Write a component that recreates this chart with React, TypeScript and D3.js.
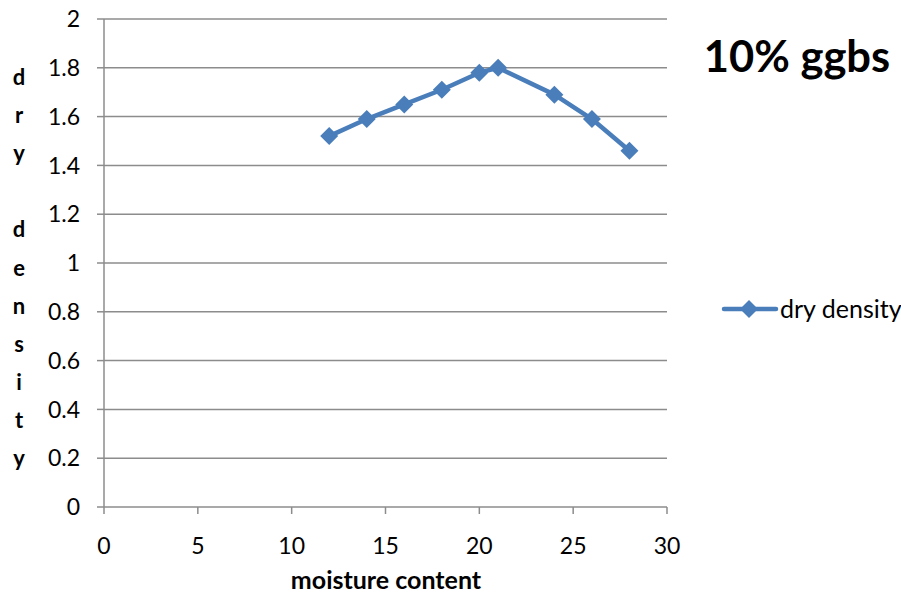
import React from "react";
import * as d3 from "d3";

const moisture = [12, 14, 16, 18, 20, 21, 24, 26, 28];
const dryDensity = [1.52, 1.59, 1.65, 1.71, 1.78, 1.8, 1.69, 1.59, 1.46];
const xTicks = [0, 5, 10, 15, 20, 25, 30];
const yTicks = [0, 0.2, 0.4, 0.6, 0.8, 1, 1.2, 1.4, 1.6, 1.8, 2];
const yTitleLetters = ["d", "r", "y", "", "d", "e", "n", "s", "i", "t", "y"];

const W = 901;
const H = 594;
const left = 104;
const right = 667;
const top = 19;
const bottom = 507;
const FONT = "Lato, 'Open Sans', 'Liberation Sans', sans-serif";
const BLUE = "#4A7EBB";
const GRID = "#8c8c8c";

export default function App() {
  const x = d3.scaleLinear().domain([0, 30]).range([left, right]);
  const y = d3.scaleLinear().domain([0, 2]).range([bottom, top]);
  const line = d3
    .line<number>()
    .x((_, i) => x(moisture[i]))
    .y((d) => y(d));
  const diamond = (cx: number, cy: number, r: number) =>
    `M${cx},${cy - r}L${cx + r},${cy}L${cx},${cy + r}L${cx - r},${cy}Z`;

  return (
    <svg
      width={W}
      height={H}
      style={{ position: "absolute", left: 0, top: 0, background: "#fff" }}
      fontFamily={FONT}
    >
      {/* horizontal gridlines */}
      {yTicks.map((t) => (
        <line
          key={"g" + t}
          x1={left}
          x2={right}
          y1={y(t)}
          y2={y(t)}
          stroke={GRID}
          strokeWidth={1.5}
        />
      ))}
      {/* y axis */}
      <line x1={left} x2={left} y1={top} y2={bottom} stroke={GRID} strokeWidth={1.5} />
      {yTicks.map((t) => (
        <g key={"yt" + t}>
          <line x1={left - 7} x2={left} y1={y(t)} y2={y(t)} stroke={GRID} strokeWidth={1.5} />
          <text
            x={80}
            y={y(t)}
            dy="0.36em"
            textAnchor="end"
            fontSize={23}
            fill="#000"
          >
            {String(t)}
          </text>
        </g>
      ))}
      {/* x axis ticks */}
      {xTicks.map((t) => (
        <g key={"xt" + t}>
          <line x1={x(t)} x2={x(t)} y1={bottom} y2={bottom + 7} stroke={GRID} strokeWidth={1.5} />
          <text x={x(t)} y={554} textAnchor="middle" fontSize={23} fill="#000">
            {t}
          </text>
        </g>
      ))}
      {/* axis titles */}
      <text x={386} y={589} textAnchor="middle" fontSize={25} fontWeight="bold" fill="#000">
        moisture content
      </text>
      {yTitleLetters.map((c, i) => (
        <text
          key={"yl" + i}
          x={19}
          y={85 + i * 38.1}
          textAnchor="middle"
          fontSize={22}
          fontWeight="bold"
          fill="#000"
        >
          {c}
        </text>
      ))}
      {/* series */}
      <path d={line(dryDensity) || ""} fill="none" stroke={BLUE} strokeWidth={4.5} strokeLinejoin="round" />
      {dryDensity.map((v, i) => (
        <path key={"m" + i} d={diamond(x(moisture[i]), y(v), 9)} fill={BLUE} />
      ))}
      {/* title */}
      <text x={797} y={72} textAnchor="middle" fontSize={43.5} fontWeight="bold" fill="#000">
        10% ggbs
      </text>
      {/* legend */}
      <line x1={724} x2={776} y1={309} y2={309} stroke={BLUE} strokeWidth={4.5} strokeLinecap="round" />
      <path d={diamond(749, 309, 9)} fill={BLUE} />
      <text x={780} y={309} dy="0.36em" fontSize={25} fill="#000">
        dry density
      </text>
    </svg>
  );
}
